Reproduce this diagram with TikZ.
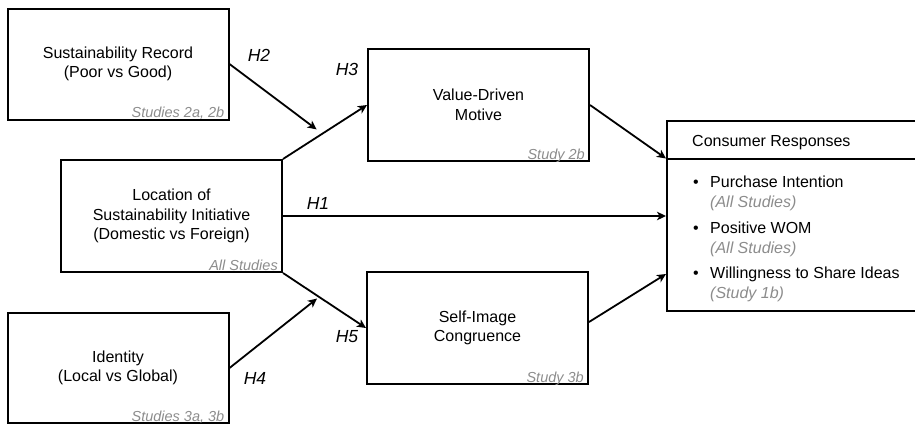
\documentclass[tikz,border=0pt]{standalone}
\usepackage{fontspec}
\setmainfont{Liberation Sans}
\usetikzlibrary{calc,arrows.meta}
\definecolor{labelgray}{HTML}{8C8C8C}
\tikzset{
  box/.style={draw, line width=2pt, minimum width=221pt, minimum height=111pt, inner sep=0pt, align=center, font=\fontsize{16}{19.5}\selectfont},
  studylbl/.style={anchor=base east, inner sep=0pt, font=\fontsize{14.5}{16}\selectfont\itshape, text=labelgray},
  hlbl/.style={inner sep=0pt, font=\fontsize{17.5}{20}\selectfont\itshape},
  conn/.style={line width=1.8pt, -{Stealth[length=9pt,width=8.5pt,inset=2.5pt]}},
  itemtxt/.style={anchor=base west, inner sep=0pt, font=\fontsize{16}{19}\selectfont},
  subtxt/.style={anchor=base west, inner sep=0pt, font=\fontsize{16}{19}\selectfont\itshape, text=labelgray},
}
\begin{document}
\begin{tikzpicture}[x=1pt,y=-1pt]
\useasboundingbox (0,0) rectangle (915,424);
\clip (0,0) rectangle (915,424);

% boxes
\node[box] (SR) at (118,64) {Sustainability Record\\(Poor vs Good)};
\node[box, minimum height=112pt] (Loc) at (171.5,216) {Location of\\Sustainability Initiative\\(Domestic vs Foreign)};
\node[box, minimum height=110pt] (Id) at (118,368) {Identity\\(Local vs Global)};
\node[box, minimum height=112pt] (VDM) at (478.5,105) {Value-Driven\\Motive};
\node[box, minimum height=112pt] (SIC) at (477.5,328) {Self-Image\\Congruence};
\node[draw, line width=2pt, minimum width=263pt, minimum height=190.5pt, inner sep=0pt] (Cons) at (798.5,215.75) {};
\coordinate (d1) at ($(Cons.north west)+(0,39)$);
\coordinate (d2) at ($(Cons.north east)+(0,39)$);
\draw[line width=2pt] (d1) -- (d2);

% study labels
\node[studylbl] (s1) at ($(SR.south east)+(-5,-3)$) {Studies 2a, 2b};
\node[studylbl] (s2) at ($(Loc.south east)+(-5,-3)$) {All Studies};
\node[studylbl] (s3) at ($(Id.south east)+(-5,-3)$) {Studies 3a, 3b};
\node[studylbl] (s4) at ($(VDM.south east)+(-5,-3)$) {Study 2b};
\node[studylbl] (s5) at ($(SIC.south east)+(-5,-3)$) {Study 3b};

% consumer responses text
\node[itemtxt] (ct) at (692,146) {Consumer Responses};
\node[itemtxt] (b1) at (693,187) {•};
\node[itemtxt] (i1) at (710,187) {Purchase Intention};
\node[subtxt] (i1s) at (710,207) {(All Studies)};
\node[itemtxt] (b2) at (693,233) {•};
\node[itemtxt] (i2) at (710,233) {Positive WOM};
\node[subtxt] (i2s) at (710,253) {(All Studies)};
\node[itemtxt] (b3) at (693,278) {•};
\node[itemtxt] (i3) at (710,278) {Willingness to Share Ideas};
\node[subtxt] (i3s) at (710,298) {(Study 1b)};

% helper coordinates
\coordinate (m1) at ($(Loc.north east)!0.4!(VDM.west)+(0,-8)$);
\coordinate (m2) at ($(Loc.south east)!0.41!(SIC.west)+(0,3)$);
\coordinate (c1) at (d1);
\coordinate (c2) at ($(Cons.south west)+(0,-38)$);
\coordinate (se) at ($(SIC.east)+(0,-6)$);

% connectors
\draw[conn] (Loc.north east) -- (VDM.west);
\draw[conn] (Loc.east) -- (Loc.east -| Cons.west);
\draw[conn] (Loc.south east) -- (SIC.west);
\draw[conn] (SR.east) -- (m1);
\draw[conn] (Id.east) -- (m2);
\draw[conn] (VDM.east) -- (c1);
\draw[conn] (se) -- (c2);

% hypothesis labels
\node[hlbl] (H2) at (259,55) {H2};
\node[hlbl] (H3) at (347,69) {H3};
\node[hlbl] (H1) at (318,203) {H1};
\node[hlbl] (H4) at (255,378) {H4};
\node[hlbl] (H5) at (347,337) {H5};
\end{tikzpicture}
\end{document}
